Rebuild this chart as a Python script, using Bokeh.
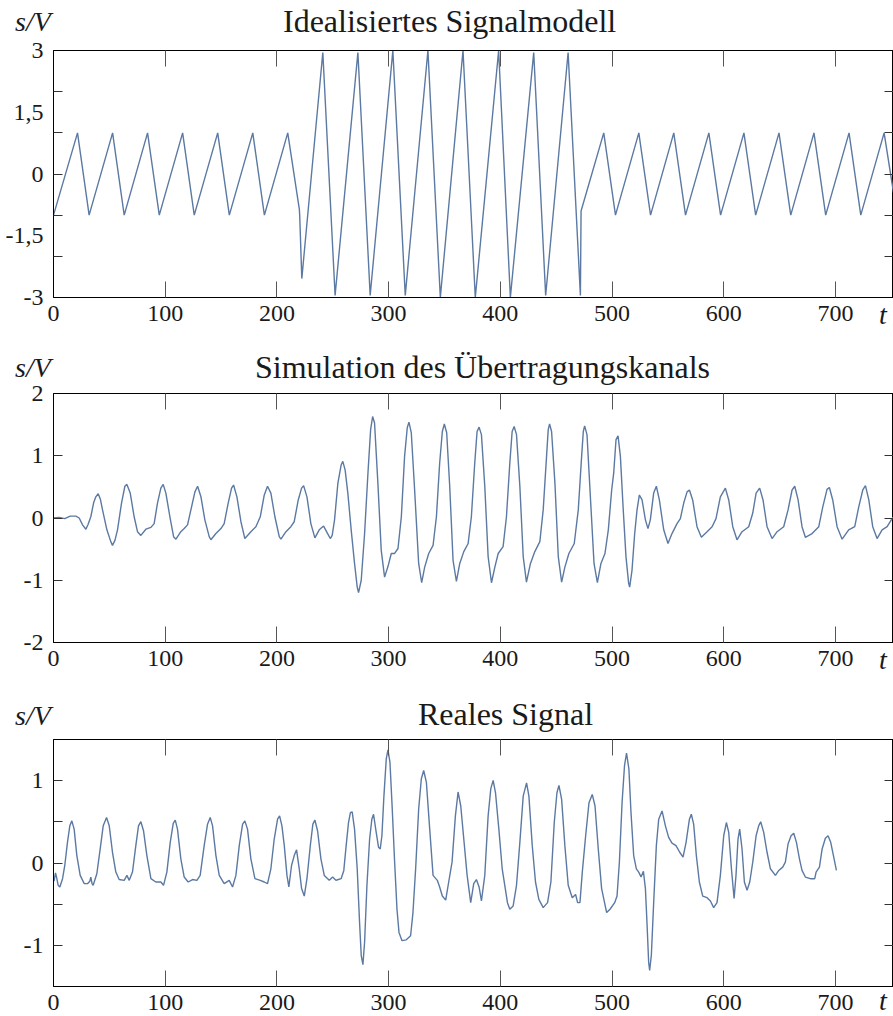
from bokeh.plotting import figure
from bokeh.models import Range1d, FixedTicker, LinearAxis, Div
from bokeh.layouts import column
from bokeh.embed import file_html
from bokeh.resources import INLINE

# ---------------- data ----------------
# Panel 1: idealised signal model (vertices of the piecewise-linear signal)
t1 = [0, 21.5, 31.9, 52.9, 63.3, 84.2, 94.7, 115.6, 126.0, 147.0, 157.4, 178.4, 188.8,
      209.7, 220.1, 220.4, 222.3, 241.1, 252.1, 272.5, 283.5, 303.8, 314.9, 335.2, 346.3,
      366.6, 377.6, 398.5, 409.0, 429.9, 440.6, 460.7, 471.7, 472.3, 492.6, 503.1, 524.0,
      534.5, 555.3, 565.8, 586.7, 597.2, 618.1, 628.6, 649.5, 660.0, 680.8, 691.3, 712.2,
      722.7, 743.6, 752.0]
s1 = [-1, 1, -1, 1, -1, 1, -1, 1, -1, 1, -1, 1, -1,
      1, -0.86, -1.0, -2.54, 2.95, -2.95, 2.95, -2.95, 3.0, -2.95, 3.0, -3.0,
      3.0, -3.0, 3.0, -3.0, 2.95, -2.95, 2.95, -2.95, -0.9, 1, -1, 1,
      -1, 1, -1, 1, -1, 1, -1, 1, -1, 1, -1, 1,
      -1, 1, -0.45]

# Panel 2: simulated transmission channel
t2 = [0, 5, 10, 15, 20, 23, 26, 29, 31, 33.4, 36, 37.9, 40, 42, 43.9, 47.8, 51.3, 52.8, 55,
      57.3, 60.9, 63.9, 65.7, 68.7, 72.2, 75.2, 78.2, 82.7, 87.2, 90.1, 93.1, 96.1, 98.2,
      100.6, 104.2, 107.5, 109.6, 114, 117, 120, 123, 126.6, 129, 132, 135.5, 139.4, 140.9,
      145.4, 149.9, 152.8, 156.4, 159.4, 161.2, 164.2, 167.8, 171.3, 176.7, 181.2, 185.1,
      188.7, 191.6, 194.6, 198.2, 202.1, 203.6, 208.1, 212.5, 215.5, 219.1, 222.1, 223.9,
      226.9, 230.4, 234, 237.9, 241.8, 245.4, 247.8, 249.5, 251.6, 254.6, 257.5, 259, 261.1,
      263.5, 266.5, 269.5, 271.9, 273.1, 275.5, 278.5, 281.5, 283.9, 285.7, 287.4, 290.4,
      293.4, 296.4, 299.4, 302.4, 305.4, 308.4, 311.4, 314.3, 316.7, 318.2, 320.3, 323.3,
      326.9, 329.6, 332.3, 335.9, 339.8, 342.8, 345.7, 348.1, 349.9, 352, 354.7, 357.7,
      360.7, 363.7, 367.3, 371.2, 374.1, 377.1, 379.2, 381, 383.1, 386.1, 389.1, 392.1,
      395.1, 398.1, 402.5, 405.5, 408.5, 410.6, 412.4, 414.5, 417.5, 420.5, 423.4, 427,
      430.9, 435.4, 438.4, 441.4, 442.9, 444.1, 445.9, 448.9, 451.9, 454.9, 457.8, 461.4,
      466.2, 469.8, 472.8, 474.3, 475.5, 477.6, 480.3, 483.9, 486.9, 490.1, 493.7, 496.7,
      499.7, 501.5, 503.6, 505.4, 507.5, 509.9, 512.5, 514.9, 515.8, 517.9, 520.3, 522.4,
      524.5, 526.9, 529.9, 532.2, 534.3, 537.3, 539.7, 542.4, 546.3, 550.1, 553.7, 558.2,
      561.2, 564.2, 567.2, 569.3, 572.2, 576.1, 580, 585.1, 589.6, 593.1, 597, 601.5,
      604.5, 608.1, 611.9, 616.4, 622.4, 626, 629, 632.2, 635.2, 638.8, 643.3, 647.8,
      653.7, 657.6, 661.2, 663.6, 666.6, 670.1, 673.1, 679.1, 685.1, 688.7, 692.5, 694.6,
      697.6, 701.5, 706, 711.9, 717.3, 720.9, 724.5, 726.9, 729.9, 733.4, 737.3, 741.8,
      746.3, 750.7, 752.2]
s2 = [0, 0.01, -0.01, 0.03, 0.03, 0.0, -0.11, -0.18, -0.10, 0.02, 0.25, 0.34, 0.39, 0.30,
      0.13, -0.19, -0.38, -0.44, -0.36, -0.19, 0.24, 0.51, 0.54, 0.40, 0.02, -0.22, -0.28,
      -0.18, -0.15, -0.09, 0.24, 0.48, 0.54, 0.40, 0.02, -0.30, -0.34, -0.22, -0.17, -0.11,
      0.13, 0.42, 0.51, 0.34, -0.03, -0.30, -0.35, -0.25, -0.17, -0.09, 0.24, 0.48, 0.53,
      0.34, -0.06, -0.33, -0.22, -0.14, 0.02, 0.37, 0.51, 0.40, 0.02, -0.30, -0.34, -0.22,
      -0.14, -0.06, 0.29, 0.48, 0.52, 0.34, -0.09, -0.32, -0.19, -0.13, -0.25, -0.33, -0.28,
      -0.03, 0.56, 0.85, 0.91, 0.77, 0.40, -0.19, -0.73, -1.11, -1.20, -1.0, -0.25, 0.72,
      1.42, 1.63, 1.53, 0.56, -0.52, -0.95, -0.78, -0.57, -0.57, -0.49, 0.02, 0.99, 1.45,
      1.54, 1.37, 0.45, -0.73, -1.04, -0.79, -0.57, -0.44, 0.02, 0.88, 1.39, 1.51, 1.37,
      0.51, -0.68, -1.02, -0.73, -0.54, -0.41, 0.02, 0.88, 1.39, 1.46, 1.34, 0.51, -0.62,
      -1.04, -0.79, -0.57, -0.46, 0.02, 0.88, 1.39, 1.47, 1.34, 0.51, -0.62, -1.03, -0.73,
      -0.54, -0.38, 0.13, 0.99, 1.42, 1.51, 1.39, 0.56, -0.62, -1.03, -0.79, -0.57, -0.41,
      0.13, 0.99, 1.39, 1.48, 1.34, 0.45, -0.73, -1.04, -0.73, -0.57, -0.19, 0.45, 0.72,
      1.26, 1.32, 0.99, 0.18, -0.62, -1.05, -1.11, -0.84, -0.25, 0.13, 0.37, 0.29, -0.03,
      -0.17, -0.03, 0.40, 0.51, 0.29, -0.19, -0.41, -0.25, -0.09, -0.01, 0.24, 0.42, 0.45,
      0.29, -0.14, -0.31, -0.22, -0.14, -0.01, 0.34, 0.48, 0.29, -0.14, -0.35, -0.22, -0.14,
      0.08, 0.40, 0.48, 0.29, -0.14, -0.33, -0.22, -0.14, 0.13, 0.45, 0.51, 0.29, -0.14,
      -0.31, -0.25, -0.14, 0.18, 0.46, 0.49, 0.29, -0.14, -0.34, -0.19, -0.14, 0.18, 0.45,
      0.52, 0.29, -0.14, -0.33, -0.19, -0.14, -0.01, 0.02]

# Panel 3: real measured signal
t3 = [0.5, 1.8, 2.7, 4.2, 5.7, 8.1, 10.1, 12.5, 14.6, 16.4, 18.5, 20.9, 23.9, 27.5, 30.4,
      32.5, 33.4, 34.5, 35.5, 38.8, 41.8, 44.5, 47.5, 49.9, 52.8, 55.8, 58.8, 63.3, 65.7,
      67.8, 70.7, 73.7, 76.1, 78.2, 80.6, 83.6, 87.2, 91.6, 96.1, 98.5, 101.5, 104.5, 107.2,
      109, 111, 114, 117, 120.6, 124.5, 128.4, 131.3, 134.9, 137.9, 140.3, 142.4, 145.4,
      148.4, 152.8, 157.3, 160.3, 163.3, 166.3, 169.3, 171.3, 173.7, 176.7, 180.3, 185.1,
      188.7, 191.6, 194.6, 197.6, 200.6, 202.4, 204.5, 206.6, 209, 210.7, 213.1, 215.5,
      217.6, 220, 222.1, 224.5, 226.9, 229.9, 232.2, 234, 236.4, 239.4, 242.4, 246.9, 249.9,
      252.8, 255, 257.5, 259.9, 262, 264.1, 265.8, 267.4, 269.5, 271.9, 274, 275.5, 277,
      278.5, 280.6, 283, 285, 286.5, 288.9, 291, 292.5, 294, 295.8, 297.9, 299.4, 301.2, 303,
      305.4, 307.5, 309.3, 312, 315.8, 319.7, 321.8, 324.2, 326.9, 329.3, 331.4, 333.8,
      336.8, 339.8, 343.6, 345.7, 348.1, 351.1, 353.8, 356.8, 359.8, 362.2, 364.6, 367.3,
      370.3, 373.5, 376.2, 378.6, 381, 383.1, 386.1, 389.1, 391.5, 393.6, 395.7, 398.7,
      401.7, 404, 406.4, 408.5, 411.5, 414.5, 417.5, 420.5, 423.5, 425.6, 428.6, 431.5,
      434.5, 438.4, 442.3, 445.3, 448.3, 450.7, 452.5, 454.9, 457.8, 460.8, 464.4, 467.4,
      469.2, 471.3, 473.4, 476.4, 479.4, 482.3, 484.8, 487.7, 490.7, 495.2, 498.2, 502.4,
      504.5, 506.6, 509, 511.2, 513, 515.1, 517, 519.4, 521.8, 523.9, 526, 528.1, 529.9,
      531.3, 532.8, 533.7, 535.2, 537.3, 539.7, 541.8, 544.8, 547.8, 550.7, 553.7, 557.3,
      560.6, 563.6, 566.3, 569.3, 571, 573.1, 575.5, 578.2, 581.2, 585.1, 588.1, 591, 594,
      597, 600, 602.4, 604.5, 606.9, 609.3, 611, 612.8, 614.3, 616.4, 618.5, 620.9, 623.3,
      626, 629, 631.3, 633.1, 635.8, 638.8, 641.8, 646.3, 649.3, 652.8, 655.2, 657.6, 660.3,
      662.7, 665.1, 667.8, 670.1, 673.1, 677.6, 681.5, 682.7, 685.7, 688.1, 691, 693.4,
      695.8, 698.5, 700.9]
s3 = [-0.22, -0.12, -0.17, -0.27, -0.29, -0.19, -0.03, 0.25, 0.45, 0.51, 0.41, 0.09, -0.15,
      -0.25, -0.25, -0.22, -0.17, -0.25, -0.27, -0.13, 0.17, 0.45, 0.55, 0.45, 0.13, -0.11,
      -0.20, -0.21, -0.15, -0.21, -0.11, 0.21, 0.45, 0.50, 0.39, 0.09, -0.19, -0.23, -0.23,
      -0.27, -0.11, 0.25, 0.48, 0.52, 0.41, 0.05, -0.17, -0.23, -0.20, -0.21, -0.15, 0.21,
      0.47, 0.55, 0.45, 0.09, -0.15, -0.25, -0.21, -0.29, -0.15, 0.21, 0.47, 0.51, 0.41,
      0.05, -0.19, -0.21, -0.23, -0.25, -0.07, 0.29, 0.53, 0.57, 0.45, 0.21, -0.15, -0.29,
      -0.03, 0.09, 0.16, -0.07, -0.31, -0.40, -0.19, 0.21, 0.47, 0.52, 0.39, 0.05, -0.15,
      -0.21, -0.17, -0.21, -0.20, -0.19, -0.09, 0.21, 0.49, 0.61, 0.62, 0.41, -0.07, -0.72,
      -1.12, -1.23, -0.96, -0.27, 0.29, 0.53, 0.59, 0.37, 0.19, 0.17, 0.33, 0.81, 1.26, 1.37,
      1.22, 0.73, 0.01, -0.56, -0.84, -0.94, -0.93, -0.88, -0.60, -0.07, 0.65, 1.02, 1.12,
      0.98, 0.41, -0.15, -0.21, -0.29, -0.40, -0.45, -0.23, 0.01, 0.57, 0.86, 0.69, 0.29,
      -0.15, -0.48, -0.25, -0.20, -0.29, -0.46, -0.15, 0.57, 0.90, 1.0, 0.85, 0.41, -0.07,
      -0.27, -0.48, -0.56, -0.52, -0.27, 0.25, 0.81, 0.97, 0.81, 0.21, -0.23, -0.44, -0.54,
      -0.48, -0.23, 0.49, 0.85, 0.94, 0.77, 0.21, -0.27, -0.42, -0.38, -0.48, -0.48, -0.11,
      0.33, 0.73, 0.83, 0.69, 0.17, -0.31, -0.60, -0.56, -0.48, -0.40, 0.01, 0.73, 1.18,
      1.33, 1.14, 0.61, 0.09, -0.07, -0.11, -0.17, -0.10, -0.31, -0.72, -1.20, -1.30, -1.12,
      -0.48, 0.21, 0.53, 0.63, 0.45, 0.31, 0.24, 0.21, 0.13, 0.07, 0.25, 0.53, 0.59, 0.47,
      0.09, -0.23, -0.40, -0.42, -0.46, -0.54, -0.48, -0.15, 0.33, 0.49, 0.37, -0.07, -0.43,
      -0.15, 0.29, 0.41, 0.17, -0.23, -0.33, -0.23, 0.01, 0.33, 0.45, 0.50, 0.37, 0.13,
      -0.07, -0.15, -0.09, -0.05, 0.01, 0.23, 0.33, 0.36, 0.25, 0.05, -0.09, -0.17, -0.19,
      -0.19, -0.11, -0.05, 0.17, 0.30, 0.33, 0.25, 0.07, -0.09]

titles = ["Idealisiertes Signalmodell", "Simulation des Übertragungskanals", "Reales Signal"]
y_unit_label = "s/V"
x_unit_label = "t"
x_ticks = [0, 100, 200, 300, 400, 500, 600, 700]
x_tick_labels = ["0", "100", "200", "300", "400", "500", "600", "700"]
y_label_ticks = [[3, 1.5, 0, -1.5, -3], [2, 1, 0, -1, -2], [1, 0, -1]]
y_label_texts = [["3", "1,5", "0", "-1,5", "-3"], ["2", "1", "0", "-1", "-2"], ["1", "0", "-1"]]
y_mark_ticks = [[2, 1, 0, -1, -2], [1, 0, -1], [1, 0.5, 0, -0.5, -1]]
y_ranges = [(-3, 3), (-2, 2), (-1.495, 1.495)]

LINE_COLOR = "#5b79a2"
SERIF = "Liberation Serif"
TEXT = "#1a1a1a"
W = 893

HEADER_CSS = ":host, div, svg { overflow: visible !important; }"


def svg_text(x, y, txt, size, italic):
    style = (f"font-family:'{SERIF}',serif;font-size:{size}px;"
             f"font-style:{'italic' if italic else 'normal'}")
    return f'<text x="{x}" y="{y}" fill="{TEXT}" style="{style}">{txt}</text>'


def strip(height, parts):
    svg = (f'<svg xmlns="http://www.w3.org/2000/svg" width="{W}" height="{height}" '
           f'style="display:block;overflow:visible">' + "".join(parts) + '</svg>')
    return Div(text=svg, width=W, height=height, margin=0,
               stylesheets=[HEADER_CSS],
               styles={"padding": "0", "margin": "0", "overflow": "visible",
                       "z-index": "5", "position": "relative"})


def header(idx, height, title_x, title_base, unit_base, t_bases=()):
    parts = [svg_text(15, unit_base, y_unit_label, 28, True),
             svg_text(title_x, title_base, titles[idx], 32, False)]
    # axis variable "t" at the tick-label rows of the neighbouring panels
    for tb in t_bases:
        parts.append(svg_text(879, tb, x_unit_label, 28, True))
    return strip(height, parts)


def panel(t, s, idx, height, top, bottom):
    p = figure(width=W, height=height, output_backend="svg", toolbar_location=None,
               title=None, x_range=Range1d(0, 752), y_range=Range1d(*y_ranges[idx]),
               x_axis_location=None, y_axis_location=None,
               min_border_left=53, min_border_right=0,
               min_border_top=top, min_border_bottom=bottom)
    p.grid.grid_line_color = None
    p.outline_line_color = "black"
    p.outline_line_width = 1

    common = dict(axis_line_color="black", axis_line_width=1,
                  major_label_text_font=SERIF, major_label_text_font_size="24px",
                  major_label_text_color=TEXT)

    xb = LinearAxis(ticker=FixedTicker(ticks=x_ticks, minor_ticks=x_ticks[1:]),
                    major_label_overrides=dict(zip(x_ticks, x_tick_labels)),
                    major_tick_in=0, major_tick_out=0, minor_tick_in=16, minor_tick_out=0,
                    minor_tick_line_color="#555555", major_label_standoff=8, **common)
    p.add_layout(xb, "below")
    xa = LinearAxis(ticker=FixedTicker(ticks=[], minor_ticks=x_ticks[1:]),
                    major_tick_in=0, major_tick_out=0, minor_tick_in=16, minor_tick_out=0,
                    minor_tick_line_color="#555555", major_label_standoff=0, **common)
    p.add_layout(xa, "above")
    yl = LinearAxis(ticker=FixedTicker(ticks=y_label_ticks[idx], minor_ticks=y_mark_ticks[idx]),
                    major_label_overrides=dict(zip(y_label_ticks[idx], y_label_texts[idx])),
                    major_tick_in=0, major_tick_out=0, minor_tick_in=9, minor_tick_out=0,
                    minor_tick_line_color="#333333", major_label_standoff=10, **common)
    p.add_layout(yl, "left")
    yr = LinearAxis(ticker=FixedTicker(ticks=[], minor_ticks=y_mark_ticks[idx]),
                    major_tick_in=0, major_tick_out=0, minor_tick_in=9, minor_tick_out=0,
                    minor_tick_line_color="#333333", major_label_standoff=0, **common)
    p.add_layout(yr, "right")

    p.line(t, s, line_color=LINE_COLOR, line_width=1.4)
    return p


h1 = header(0, 36, 283, 31.7, 30.7)
p1 = panel(t1, s1, 0, 304, 14, 43)
h2 = header(1, 39, 255, 37.7, 36.7, t_bases=(-16,))
p2 = panel(t2, s2, 1, 311, 14, 48)
h3 = header(2, 43, 418, 35, 35, t_bases=(-21, 320))
p3 = panel(t3, s3, 2, 282, 6, 29)

layout = column(h1, p1, h2, p2, h3, p3, spacing=0)
open("out.html", "w", encoding="utf-8").write(file_html(layout, INLINE))
